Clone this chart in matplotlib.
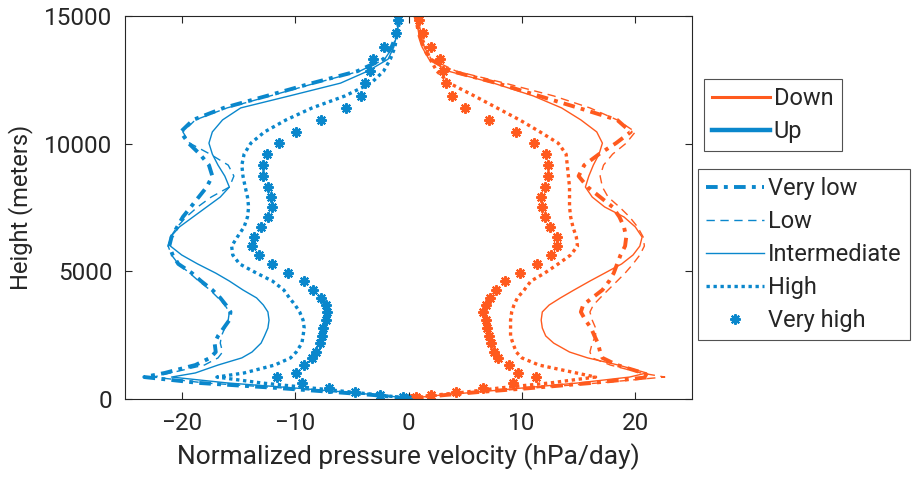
import matplotlib
matplotlib.use("Agg")
import matplotlib.pyplot as plt
from matplotlib.lines import Line2D
import numpy as np

plt.rcParams['font.family'] = ['Roboto', 'DejaVu Sans']

# ---- data ----
height = [0, 80, 160, 270, 430, 630, 860, 1020, 1330, 1610,
          1840, 2190, 2470, 2780, 3090, 3410, 3680, 3960, 4270, 4620,
          4930, 5290, 5640, 5990, 6340, 6740, 7130, 7520, 7910, 8300,
          8730, 9160, 9590, 10020, 10460, 10930, 11400, 11870, 12370, 12840,
          13310, 13780, 14330, 14840, 15000]

# upward (blue)
up_very_low = [-0.2, -1.2, -3.2, -6.5, -11.5, -18.5, -23.3, -21.5, -18.8, -17.5,
               -17.0, -17.1, -16.8, -16.3, -15.8, -15.7, -16.1, -16.6, -17.3, -18.3,
               -19.1, -20.3, -20.8, -21.1, -20.9, -20.4, -19.9, -19.2, -18.5, -17.8,
               -17.3, -17.6, -18.4, -19.4, -20.1, -19.0, -16.3, -12.5, -8.5, -4.5,
               -2.2, -1.5, -1.0, -0.8, -0.8]
up_low = [-0.2, -1.2, -3.1, -6.2, -11.0, -18.0, -22.5, -21.0, -18.0, -16.8,
          -16.4, -16.6, -16.5, -16.2, -15.9, -15.8, -16.2, -16.8, -17.5, -18.5,
          -19.3, -20.3, -20.9, -21.2, -21.0, -20.4, -19.6, -18.6, -17.4, -15.8,
          -15.4, -15.9, -17.5, -19.3, -19.9, -18.8, -16.0, -12.2, -8.2, -4.3,
          -2.1, -1.4, -1.0, -0.8, -0.8]
up_intermediate = [-0.2, -1.0, -2.8, -5.5, -10.0, -16.0, -20.9, -18.8, -16.8, -14.7,
                   -13.8, -13.0, -12.7, -12.4, -12.3, -12.4, -12.8, -13.4, -14.6, -15.8,
                   -17.0, -18.6, -20.0, -21.0, -21.0, -20.2, -19.0, -17.8, -16.6, -15.8,
                   -16.2, -16.8, -17.3, -17.6, -17.3, -16.4, -14.8, -10.5, -6.0, -3.6,
                   -1.8, -1.3, -1.0, -0.9, -0.9]
up_high = [-0.2, -1.0, -2.6, -5.0, -8.5, -13.0, -16.9, -14.5, -11.8, -10.4,
           -9.9, -9.4, -9.3, -9.2, -9.3, -9.6, -10.0, -10.5, -11.0, -12.0,
           -13.4, -14.9, -15.5, -15.6, -15.1, -14.5, -14.2, -14.1, -14.2, -14.4,
           -14.6, -14.7, -14.5, -13.9, -12.7, -10.8, -8.5, -5.6, -3.3, -2.2,
           -1.6, -1.2, -1.0, -0.9, -0.9]
up_very_high = [-0.1, -0.5, -2.5, -4.7, -7.0, -9.4, -11.6, -9.9, -9.2, -8.5,
                -8.2, -7.8, -7.6, -7.5, -7.3, -7.2, -7.3, -7.7, -8.4, -9.2,
                -10.6, -12.0, -13.2, -13.8, -13.6, -13.0, -12.4, -12.0, -12.1, -12.4,
                -12.8, -12.8, -12.5, -11.4, -9.9, -7.7, -5.5, -4.2, -3.8, -3.4,
                -3.1, -2.2, -1.1, -0.9, np.nan]

# downward (orange)
down_very_low = [0.3, 1.4, 3.3, 6.1, 10.8, 16.2, 21.3, 20.7, 18.4, 17.1,
                 16.9, 16.7, 16.4, 16.1, 15.6, 15.2, 15.4, 16.2, 17.1, 17.7,
                 18.1, 18.4, 18.7, 19.1, 19.2, 19.0, 18.6, 18.0, 16.9, 15.8,
                 15.0, 15.5, 16.8, 18.3, 19.6, 18.4, 15.0, 11.5, 7.8, 3.8,
                 1.9, 1.3, 0.9, 0.7, 0.6]
down_low = [0.3, 1.4, 3.4, 6.3, 11.0, 16.8, 22.6, 20.5, 17.8, 16.2,
            16.0, 16.2, 16.5, 16.5, 16.2, 16.0, 16.3, 16.9, 17.6, 18.4,
            19.1, 19.8, 20.4, 20.8, 20.7, 20.2, 19.5, 18.6, 17.6, 17.1,
            16.9, 17.2, 18.0, 19.2, 20.0, 18.4, 16.0, 12.8, 8.5, 4.2,
            2.0, 1.4, 1.0, 0.8, 0.7]
down_intermediate = [0.3, 1.2, 3.0, 6.0, 10.0, 15.0, 19.5, 21.0, 18.5, 15.8,
                     14.2, 12.8, 12.1, 11.8, 11.7, 11.8, 12.4, 13.4, 14.6, 16.0,
                     17.3, 18.8, 19.8, 20.4, 20.6, 20.0, 19.0, 17.3, 16.2, 15.6,
                     15.9, 16.3, 16.8, 17.1, 16.6, 15.2, 13.5, 11.0, 7.5, 3.5,
                     1.8, 1.2, 0.9, 0.7, 0.6]
down_high = [0.3, 1.0, 2.5, 5.0, 8.0, 12.5, 16.5, 14.8, 11.5, 10.0,
             9.5, 9.2, 9.0, 9.0, 9.0, 9.1, 9.3, 9.6, 10.2, 10.8,
             12.0, 13.2, 14.3, 14.9, 14.8, 14.5, 14.3, 14.2, 14.2, 14.2,
             14.1, 14.0, 13.9, 13.2, 11.6, 9.8, 7.8, 5.8, 3.6, 2.5,
             1.9, 1.5, 1.0, 0.8, 0.7]
down_very_high = [0.2, 0.7, 2.0, 4.2, 6.6, 9.2, 11.2, 9.7, 8.9, 7.9,
                  7.5, 7.3, 7.1, 6.9, 6.8, 6.6, 6.8, 7.2, 7.7, 8.5,
                  9.8, 11.3, 12.6, 13.1, 13.1, 12.5, 12.0, 11.8, 11.7, 12.0,
                  12.3, 12.3, 12.1, 11.1, 9.5, 7.1, 5.0, 3.8, 3.3, 3.0,
                  2.8, 2.0, 1.3, 0.9, np.nan]

class_names = ['Very low', 'Low', 'Intermediate', 'High', 'Very high']

blue = '#0A87CC'
orange = '#FF5A1E'
txt = '#262626'

# line styles per class
styles = [dict(ls=(0, (3, 1.6, 1, 1.6)), lw=2.8),
          dict(ls=(0, (6, 4)), lw=1.0),
          dict(ls='-', lw=1.0),
          dict(ls=(0, (1, 1.1)), lw=2.4),
          dict(ls='none', lw=0, marker=(8, 2, 0), ms=7.5, mew=1.5)]

fig = plt.figure(figsize=(9.18, 4.83), dpi=100)
ax = fig.add_axes([0.1362, 0.1739, 0.6176, 0.7930])

up = [up_very_low, up_low, up_intermediate, up_high, up_very_high]
down = [down_very_low, down_low, down_intermediate, down_high, down_very_high]
for d, u, st in zip(down, up, styles):
    ax.plot(d, height, color=orange, **st)
    ax.plot(u, height, color=blue, **st)

ax.set_xlim(-25, 25)
ax.set_ylim(0, 15000)
ax.set_xticks([-20, -10, 0, 10, 20])
ax.set_yticks([0, 5000, 10000, 15000])
ax.tick_params(direction='in', top=True, right=True, labelsize=17.5,
               colors=txt, length=5, width=0.8, pad=9)
for s in ax.spines.values():
    s.set_color(txt)
    s.set_linewidth(0.8)
ax.set_xlabel('Normalized pressure velocity (hPa/day)', fontsize=19, color=txt, labelpad=6)
ax.set_ylabel('Height (meters)', fontsize=17, color=txt, labelpad=8)

# legends
leg_kw = dict(fontsize=17, frameon=True, fancybox=False, edgecolor=txt,
              handlelength=2.45, handletextpad=0.15, borderpad=0.35, labelspacing=0.42,
              borderaxespad=0)
h1 = [Line2D([], [], color=orange, lw=2.2), Line2D([], [], color=blue, lw=3.2)]
leg1 = fig.legend(h1, ['Down', 'Up'], loc='upper left',
                  bbox_to_anchor=(704 / 918, 1 - 79 / 483), **leg_kw)
leg1.get_frame().set_linewidth(0.8)
h2 = [Line2D([], [], color=blue, **st) for st in styles]
leg2 = fig.legend(h2, class_names, loc='upper left',
                  bbox_to_anchor=(698 / 918, 1 - 169 / 483), **leg_kw)
leg2.get_frame().set_linewidth(0.8)
for lg in (leg1, leg2):
    for t in lg.get_texts():
        t.set_color(txt)

fig.savefig('out.png', dpi=100)
